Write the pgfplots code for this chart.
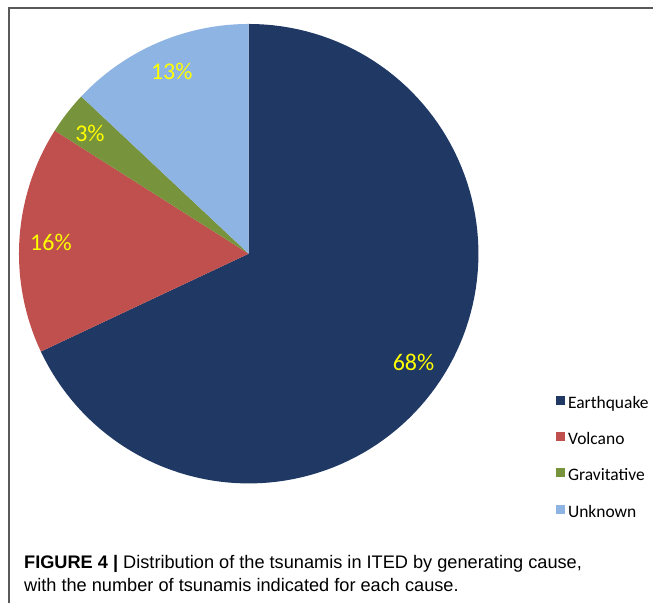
\documentclass[border=0pt]{standalone}
\usepackage{fontspec}
\setmainfont{Carlito}
\newfontfamily\capfont{Liberation Sans}
\usepackage{pgfplots}
\usepackage{pgfplotstable}
\pgfplotsset{compat=1.18}

\definecolor{quake}{HTML}{1F3864}
\definecolor{volc}{HTML}{C0504D}
\definecolor{grav}{HTML}{77933C}
\definecolor{unk}{HTML}{8EB4E3}
\definecolor{lbl}{HTML}{FFFF00}

% share of tsunamis by cause, in percent
\pgfplotstableread{
cause pct
Earthquake 68
Volcano 16
Gravitative 3
Unknown 13
}\causes
\pgfplotstablegetelem{0}{pct}\of\causes \let\pA\pgfplotsretval
\pgfplotstablegetelem{1}{pct}\of\causes \let\pB\pgfplotsretval
\pgfplotstablegetelem{2}{pct}\of\causes \let\pC\pgfplotsretval
\pgfplotstablegetelem{3}{pct}\of\causes \let\pD\pgfplotsretval
% slices run clockwise from 12 o'clock
\pgfmathsetmacro\aA{90-3.6*\pA}
\pgfmathsetmacro\aB{\aA-3.6*\pB}
\pgfmathsetmacro\aC{\aB-3.6*\pC}
\pgfmathsetmacro\aD{\aC-3.6*\pD}

\begin{document}%
\begin{tikzpicture}
\begin{axis}[
  scale only axis, width=654pt, height=604pt,
  xmin=0, xmax=654, ymin=0, ymax=604,
  axis lines=none, clip=false,
  legend style={draw=none, fill=none, inner sep=0pt,
    at={(axis cs:556,208)}, anchor=north west,
    row sep=20.8pt, font=\fontsize{17.5}{19}\selectfont,
    nodes={inner sep=0pt, text height=11pt, text depth=3pt},
    /tikz/every odd column/.append style={column sep=3.5pt}},
  legend cell align=left,
  legend image code/.code={\fill[#1] (0pt,-0.5pt) rectangle (9pt,8.5pt);},
]
\addplot[fill=quake, draw=none, domain=\aA:90, samples=120]
  ({249+230*cos(x)}, {350+230*sin(x)}) -- (249,350) -- cycle;
\addlegendentry{Earthquake}
\addplot[fill=volc, draw=none, domain=\aB:\aA, samples=40]
  ({249+230*cos(x)}, {350+230*sin(x)}) -- (249,350) -- cycle;
\addlegendentry{Volcano}
\addplot[fill=grav, draw=none, domain=\aC:\aB, samples=10]
  ({249+230*cos(x)}, {350+230*sin(x)}) -- (249,350) -- cycle;
\addlegendentry{Gravitative}
\addplot[fill=unk, draw=none, domain=\aD:\aC, samples=40]
  ({249+230*cos(x)}, {350+230*sin(x)}) -- (249,350) -- cycle;
\addlegendentry{Unknown}

\begin{scope}[every node/.style={text=lbl, font=\fontsize{24}{28}\selectfont}]
\node at (axis cs:414,241) {\pA\%};
\node at (axis cs:51,361) {\pB\%};
\node at (axis cs:90,470) {\pC\%};
\node at (axis cs:172,532) {\pD\%};
\end{scope}

% page frame, only its top and left edges show
\begin{pgfinterruptboundingbox}
\draw[line width=1.5pt, black!65] (axis cs:9,0) -- (axis cs:9,596) -- (axis cs:654,596);
\end{pgfinterruptboundingbox}
\path (axis cs:0,0) rectangle (axis cs:654,604);

\node[anchor=base west, inner sep=0pt, font=\capfont\fontsize{18.2}{22}\selectfont]
  at (axis cs:24,35) {\textbf{FIGURE 4 |} Distribution of the tsunamis in ITED by generating cause,};
\node[anchor=base west, inner sep=0pt, font=\capfont\fontsize{18.2}{22}\selectfont]
  at (axis cs:24,12) {with the number of tsunamis indicated for each cause.};
\end{axis}
\end{tikzpicture}%
\end{document}
